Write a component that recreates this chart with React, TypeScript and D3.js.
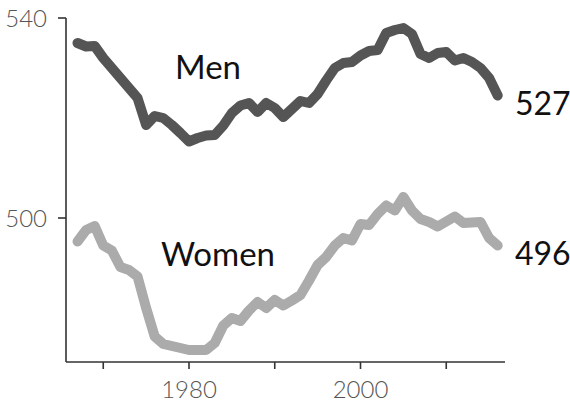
import React from "react";
import * as d3 from "d3";

const years: number[] = d3.range(1967, 2017);

const men: number[] = [
  535.0, 534.3, 534.4, 532.0, 530.0, 528.0, 526.0, 524.0, 518.6, 520.4,
  520.0, 518.6, 517.0, 515.3, 516.0, 516.5, 516.6, 518.5, 521.0, 522.5,
  523.0, 521.2, 523.0, 522.0, 520.2, 521.8, 523.4, 523.0, 524.8, 527.5,
  530.0, 531.0, 531.2, 532.5, 533.4, 533.6, 537.0, 537.6, 538.0, 536.8,
  532.8, 532.0, 533.0, 533.2, 531.5, 532.0, 531.2, 530.0, 528.0, 524.5,
];

const women: number[] = [
  495.3, 497.6, 498.4, 494.5, 493.5, 490.2, 489.6, 488.3, 482.0, 476.3,
  474.8, 474.4, 474.0, 473.6, 473.6, 473.6, 475.0, 478.5, 480.0, 479.4,
  481.5, 483.2, 482.0, 483.6, 482.5, 483.5, 484.6, 487.5, 490.6, 492.2,
  494.5, 496.0, 495.5, 498.8, 498.6, 500.8, 502.5, 501.5, 504.2, 501.5,
  499.8, 499.2, 498.3, 499.3, 500.3, 499.0, 499.1, 499.2, 496.0, 494.5,
];

const yTicks: number[] = [500, 540];
const xTicks: number[] = [1970, 1980, 1990, 2000, 2010];
const xTickLabels: number[] = [1980, 2000];
const seriesNames: string[] = ["Men", "Women"];
const endLabels: string[] = ["527", "496"];

const FONT = "Lato, 'Open Sans', sans-serif";

export default function App() {
  const x = d3.scaleLinear().domain([1980, 2000]).range([189, 360.5]);
  const y = d3.scaleLinear().domain([500, 540]).range([218, 18]);
  const xLeft = 66;
  const xRight = 505;
  const yBottom = 362;
  const yTop = 18;

  const line = d3
    .line<number>()
    .x((_, i) => x(years[i]))
    .y((d) => y(d));

  return (
    <svg
      width={570}
      height={404}
      style={{ position: "absolute", left: 0, top: 0, background: "#fff" }}
    >
      <path
        d={line(women) || ""}
        fill="none"
        stroke="#ababab"
        strokeWidth={10}
        strokeLinejoin="round"
        strokeLinecap="round"
      />
      <path
        d={line(men) || ""}
        fill="none"
        stroke="#555555"
        strokeWidth={10}
        strokeLinejoin="round"
        strokeLinecap="round"
      />
      {/* axes */}
      <line x1={xLeft} x2={xLeft} y1={yTop} y2={yBottom} stroke="#333" strokeWidth={1.6} />
      <line x1={xLeft} x2={xRight} y1={yBottom} y2={yBottom} stroke="#333" strokeWidth={1.6} />
      {yTicks.map((t) => (
        <g key={t}>
          <line x1={xLeft - 8} x2={xLeft} y1={y(t)} y2={y(t)} stroke="#333" strokeWidth={1.6} />
          <text
            x={47}
            y={y(t) + 9}
            textAnchor="end"
            fontFamily={FONT}
            fontWeight={300}
            fontSize={24}
            fill="#555"
          >
            {t}
          </text>
        </g>
      ))}
      {xTicks.map((t) => (
        <line key={t} x1={x(t)} x2={x(t)} y1={yBottom} y2={yBottom + 7} stroke="#333" strokeWidth={1.6} />
      ))}
      {xTickLabels.map((t) => (
        <text
          key={t}
          x={x(t)}
          y={398}
          textAnchor="middle"
          fontFamily={FONT}
          fontWeight={300}
          fontSize={24}
          fill="#555"
        >
          {t}
        </text>
      ))}
      {/* series labels */}
      <text x={175} y={79} fontFamily={FONT} fontSize={33} fill="#111">
        {seriesNames[0]}
      </text>
      <text x={161} y={266} fontFamily={FONT} fontSize={33} fill="#111">
        {seriesNames[1]}
      </text>
      <text x={515} y={115} fontFamily={FONT} fontSize={32} fill="#111">
        {endLabels[0]}
      </text>
      <text x={515} y={265} fontFamily={FONT} fontSize={32} fill="#111">
        {endLabels[1]}
      </text>
    </svg>
  );
}
